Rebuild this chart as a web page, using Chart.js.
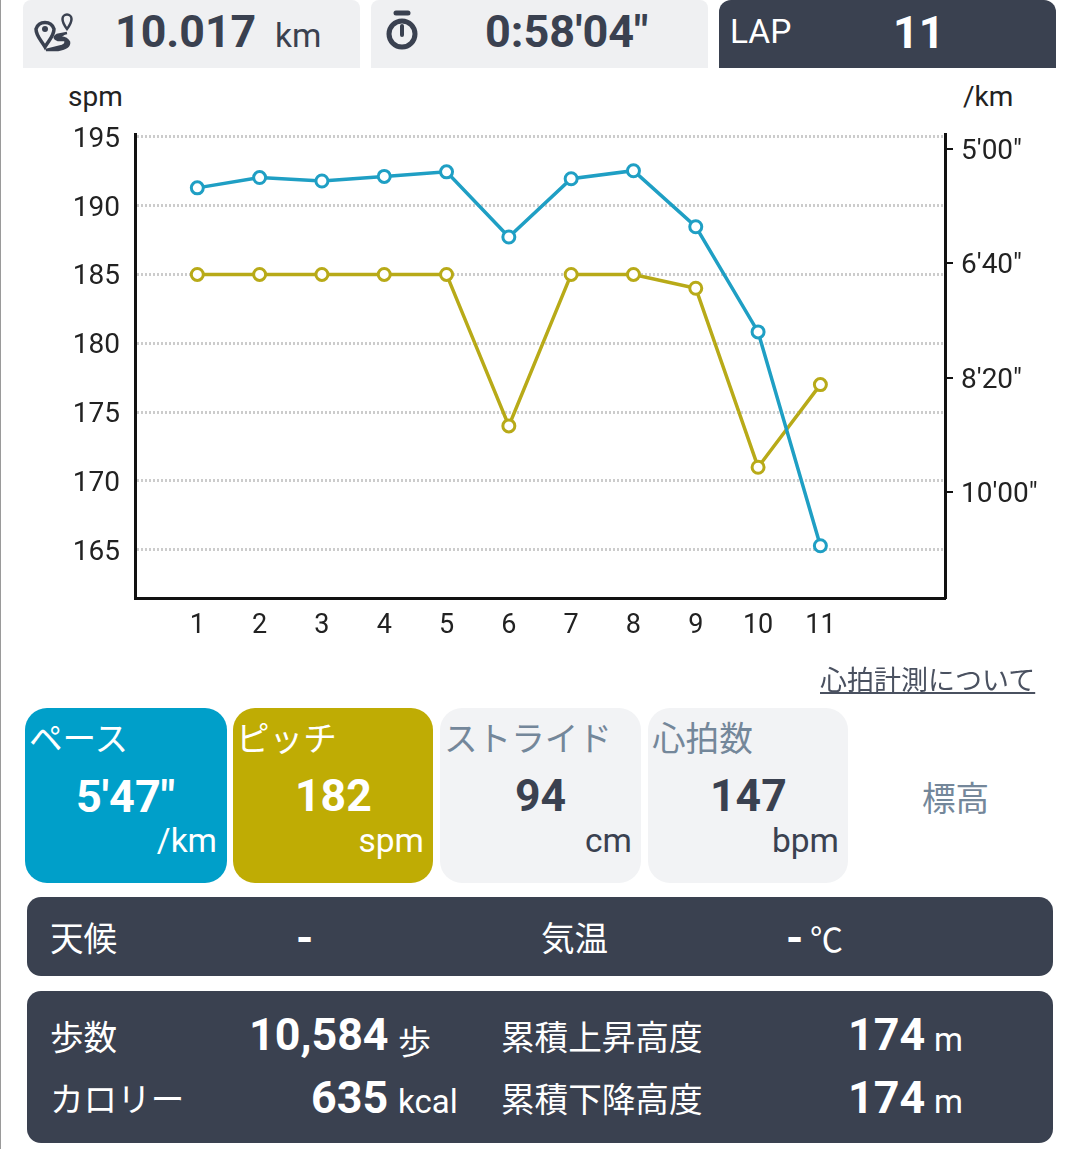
<!DOCTYPE html>
<html><head><meta charset="utf-8">
<script src="https://cdn.jsdelivr.net/npm/chart.js@4"></script>
<style>
html,body{margin:0;padding:0;background:#fff;width:1080px;height:1149px;overflow:hidden}
body{position:relative;font-family:Roboto,"Noto Sans CJK JP",sans-serif;color:#3a4150}
.box{position:absolute}
.t{position:absolute;white-space:nowrap;line-height:1}
.b{font-weight:700}
.jp{font-family:"Noto Sans CJK JP",Roboto,sans-serif}
canvas{position:absolute;left:0;top:80px}
</style></head><body>
<div class="box" style="left:0;top:0;width:1px;height:1149px;background:#9a9a9a"></div>
<div class="box" style="left:23px;top:0;width:337px;height:68px;background:#eff0f2;border-radius:8px 8px 0 0"></div>
<div class="box" style="left:371px;top:0;width:337px;height:68px;background:#eff0f2;border-radius:8px 8px 0 0"></div>
<div class="box" style="left:719px;top:0;width:337px;height:68px;background:#3a4150;border-radius:12px 12px 0 0"></div>
<svg class="box" style="left:34px;top:12px" width="40" height="40" viewBox="0 0 40 40" fill="none" stroke="#3a4150">
<path d="M11 35 C7 28 2 24 2 17 A9.500 9.500 0 0 1 20 17 C20 24 15 28 11 35Z" stroke-width="3.500"/><circle cx="11" cy="17" r="3" fill="#3a4150" stroke="none"/>
<path d="M33 17 C30 13 28.500 10 28.500 7 A4.500 4.500 0 0 1 37.500 7 C37.500 10 36 13 33 17Z" stroke-width="2.500"/>
<path d="M33 21 L23 23 Q18 26 24 28 L31 28 Q33 32 28 34 L12 38 L24 38 Q36 36 35 30 Q33 26 27 25.500" stroke-width="2.500" fill="#3a4150"/></svg>
<svg class="box" style="left:384px;top:10px" width="36" height="42" viewBox="0 0 36 42" fill="none" stroke="#3a4150">
<path d="M12 3 H24" stroke-width="5" stroke-linecap="round"/><circle cx="18" cy="24" r="13" stroke-width="5"/><path d="M18 16 V25" stroke-width="4" stroke-linecap="round"/></svg>
<div class="t b" style="left:115px;top:10px;font-size:44.700px">10.017</div>
<div class="t" style="left:275px;top:19px;font-size:33.500px">km</div>
<div class="t b" style="left:485px;top:9px;font-size:45px">0:58'04"</div>
<div class="t" style="left:730px;top:15px;font-size:33.500px;color:#fff">LAP</div>
<div class="t b" style="left:893px;top:10px;font-size:45px;color:#fff">11</div>
<div class="t" style="left:68px;top:83px;font-size:28px;color:#222">spm</div>
<div class="t" style="left:963px;top:83px;font-size:28px;color:#222">/km</div>
<canvas id="c" width="1080" height="620" style="width:1080px;height:620px"></canvas>
<div class="t jp" style="left:820px;top:665px;font-size:27px;color:#4a5160;text-decoration:underline;text-underline-offset:2px">心拍計測について</div>

<div class="box" style="left:25px;top:708px;width:202px;height:175px;background:#009fc9;border-radius:22px"></div>
<div class="box" style="left:233px;top:708px;width:200px;height:175px;background:#bfac04;border-radius:22px"></div>
<div class="box" style="left:440px;top:708px;width:201px;height:175px;background:#f2f3f5;border-radius:22px"></div>
<div class="box" style="left:648px;top:708px;width:200px;height:175px;background:#f2f3f5;border-radius:22px"></div>
<div class="t jp" style="left:29px;top:720px;font-size:33.600px;color:#fff">ペース</div>
<div class="t jp" style="left:236px;top:720px;font-size:33.600px;color:#fff">ピッチ</div>
<div class="t jp" style="left:444px;top:720px;font-size:33.600px;color:#74879a">ストライド</div>
<div class="t jp" style="left:652px;top:720px;font-size:33.600px;color:#74879a">心拍数</div>
<div class="t jp" style="left:922px;top:780px;font-size:33.600px;color:#74879a">標高</div>
<div class="t b" style="left:76px;top:774px;font-size:45px;color:#fff">5'47"</div>
<div class="t b" style="left:295px;top:774px;font-size:44.600px;color:#fff">182</div>
<div class="t b" style="left:515px;top:774px;font-size:44.600px">94</div>
<div class="t b" style="left:710px;top:774px;font-size:44.600px">147</div>
<div class="t" style="right:863px;top:824px;font-size:33.500px;color:#fff">/km</div>
<div class="t" style="right:656px;top:824px;font-size:33.500px;color:#fff">spm</div>
<div class="t" style="right:448px;top:824px;font-size:33.500px">cm</div>
<div class="t" style="right:241px;top:824px;font-size:33.500px">bpm</div>

<div class="box" style="left:27px;top:897px;width:1026px;height:79px;background:#3a4150;border-radius:14px"></div>
<div class="box" style="left:27px;top:991px;width:1026px;height:152px;background:#3a4150;border-radius:14px"></div>
<div class="t jp" style="left:50px;top:920px;font-size:33.600px;color:#fff">天候</div>
<div class="t b" style="left:296px;top:916px;font-size:44px;color:#fff">-</div>
<div class="t jp" style="left:541px;top:920px;font-size:33.600px;color:#fff">気温</div>
<div class="t b" style="left:786px;top:916px;font-size:44px;color:#fff">-</div>
<div class="t jp" style="left:810px;top:922px;font-size:33px;color:#fff">℃</div>
<div class="t jp" style="left:50px;top:1019px;font-size:33.600px;color:#fff">歩数</div>
<div class="t b" style="left:249px;top:1013px;font-size:44.800px;color:#fff">10,584</div>
<div class="t jp" style="left:398px;top:1024px;font-size:33px;color:#fff">歩</div>
<div class="t jp" style="left:501px;top:1019px;font-size:33.600px;color:#fff">累積上昇高度</div>
<div class="t b" style="left:848px;top:1013px;font-size:44.800px;color:#fff">174</div>
<div class="t" style="left:934px;top:1023px;font-size:33px;color:#fff">m</div>
<div class="t jp" style="left:50px;top:1081px;font-size:33.600px;color:#fff">カロリー</div>
<div class="t b" style="left:311px;top:1076px;font-size:44.800px;color:#fff">635</div>
<div class="t" style="left:398px;top:1085px;font-size:33px;color:#fff">kcal</div>
<div class="t jp" style="left:501px;top:1081px;font-size:33.600px;color:#fff">累積下降高度</div>
<div class="t b" style="left:848px;top:1076px;font-size:44.800px;color:#fff">174</div>
<div class="t" style="left:934px;top:1085px;font-size:33px;color:#fff">m</div>
<script>
const laps = [1,2,3,4,5,6,7,8,9,10,11];
const paceSeconds = [334,325,328,324,320,377,326,319,368,460,647];
const pitchSpm = [185,185,185,185,185,174,185,185,184,171,177];
const leftTicks = [165,170,175,180,185,190,195];
const rightTicks = [300,400,500,600];
const rightTickLabels = {300:"5'00\"",400:"6'40\"",500:"8'20\"",600:"10'00\""};
const blue='#1f9fc4', olive='#b8aa18';
// a short empty first line moves the single visible line of a tick label down to the reference's centring
const yFont={family:'Roboto',size:28,lineHeight:'6px'};
new Chart(document.getElementById('c'),{
  type:'line',
  data:{datasets:[
    {label:'ペース',data:laps.map((x,i)=>({x,y:paceSeconds[i]})),yAxisID:'yR',borderColor:blue,backgroundColor:'#fff',borderWidth:3.5,pointRadius:6,pointBorderWidth:3,pointBorderColor:blue,pointBackgroundColor:'#fff',tension:0},
    {label:'ピッチ',data:laps.map((x,i)=>({x,y:pitchSpm[i]})),yAxisID:'yL',borderColor:olive,backgroundColor:'#fff',borderWidth:3.5,pointRadius:6,pointBorderWidth:3,pointBorderColor:olive,pointBackgroundColor:'#fff',tension:0}
  ]},
  options:{responsive:false,animation:false,
    layout:{padding:{top:54,left:0,right:0,bottom:0}},
    plugins:{legend:{display:false},tooltip:{enabled:false}},
    scales:{
      x:{type:'linear',min:0,max:13,afterBuildTicks(s){s.ticks=laps.map(v=>({value:v}));},
        afterFit(s){s.height=102;},
        border:{display:true,color:'#111',width:3},
        grid:{display:false},
        ticks:{font:{family:'Roboto',size:27},color:'#222',padding:4,maxRotation:0,autoSkip:false,callback:v=>String(v)}},
      yL:{position:'left',min:161.5,max:195.2,afterBuildTicks(s){s.ticks=leftTicks.map(v=>({value:v}));},
        afterFit(s){s.width=135;},
        border:{display:true,color:'#111',width:3,dash:[2,2]},
        grid:{color:'#cccccc',lineWidth:3,drawTicks:false,tickLength:0},
        ticks:{font:yFont,color:'#222',padding:15,autoSkip:false,callback:v=>['',String(v)]}},
      yR:{position:'right',reverse:true,min:286.9,max:692.7,afterBuildTicks(s){s.ticks=rightTicks.map(v=>({value:v}));},
        afterFit(s){s.width=135;},
        border:{display:true,color:'#111',width:3},
        grid:{drawOnChartArea:false,drawTicks:true,tickLength:8,tickColor:'#111',lineWidth:2},
        ticks:{font:yFont,color:'#222',padding:8,autoSkip:false,callback:v=>['',rightTickLabels[v]]}}
    }
  }
});
</script>
</body></html>
